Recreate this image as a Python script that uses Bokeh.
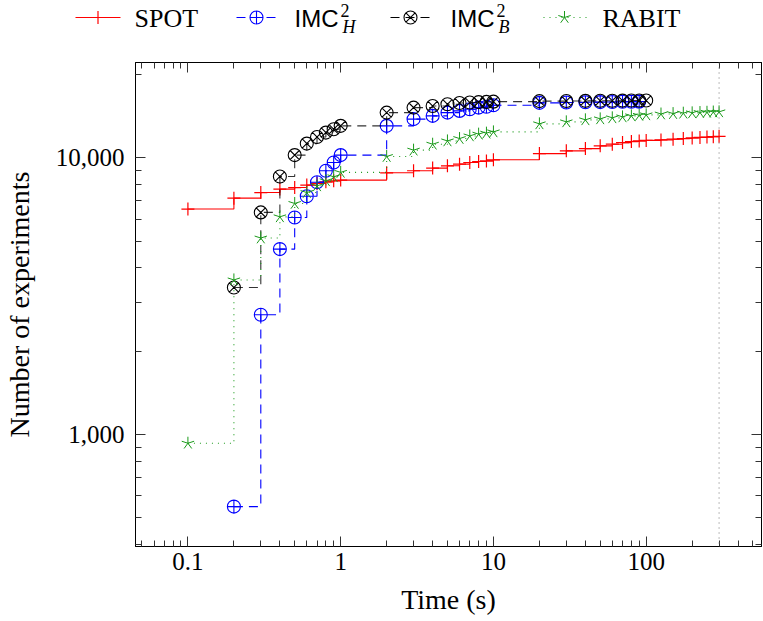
import math
from bokeh.plotting import figure
from bokeh.models import (Range1d, LogAxis, FixedTicker, Span, CustomJSTickFormatter,
                          NumeralTickFormatter)
from bokeh.layouts import column
from bokeh.core.properties import value
from bokeh.embed import file_html
from bokeh.resources import INLINE

# ---------------- data ----------------
t_spot = [0.1, 0.2, 0.3, 0.4, 0.5, 0.6, 0.7, 0.8, 0.9, 1, 2, 3, 4, 5, 6, 7, 8, 9, 10,
          20, 30, 40, 50, 60, 70, 80, 90, 100, 125, 150, 175, 200, 225, 250, 275, 300]
v_spot = [6530, 7150, 7490, 7710, 7810, 7970, 8080, 8190, 8260, 8310, 8830, 8980, 9180, 9360,
          9490, 9620, 9700, 9750, 9840, 10360, 10600, 10800, 11050, 11200, 11350, 11450,
          11510, 11560, 11610, 11680, 11740, 11800, 11850, 11890, 11930, 11960]

t_imch = [0.2, 0.3, 0.4, 0.5, 0.6, 0.7, 0.8, 0.9, 1, 2, 3, 4, 5, 6, 7, 8, 9, 10,
          20, 30, 40, 50, 60, 70, 80, 90]
v_imch = [549, 2710, 4680, 6090, 7260, 8160, 8980, 9620, 10230, 13050, 13800, 14180, 14570,
          14780, 14990, 15190, 15300, 15500, 15800, 15850, 15880, 15900, 15920, 15940, 15950, 15960]

t_imcb = [0.2, 0.3, 0.4, 0.5, 0.6, 0.7, 0.8, 0.9, 1, 2, 3, 4, 5, 6, 7, 8, 9, 10,
          20, 30, 40, 50, 60, 70, 80, 90, 100]
v_imcb = [3400, 6350, 8560, 10230, 11260, 11900, 12340, 12690, 13050, 14570, 15190, 15400,
          15620, 15780, 15850, 15900, 15930, 15960, 16030, 16050, 16070, 16080, 16090, 16100,
          16110, 16115, 16120]

t_rabit = [0.1, 0.2, 0.3, 0.4, 0.5, 0.6, 0.7, 0.8, 0.9, 1, 2, 3, 4, 5, 6, 7, 8, 9, 10,
           20, 30, 40, 50, 60, 70, 80, 90, 100, 125, 150, 175, 200, 225, 250, 275, 300]
v_rabit = [930, 3620, 5130, 6120, 6840, 7490, 7920, 8260, 8540, 8860, 10110, 10660, 11200,
           11510, 11740, 12000, 12180, 12280, 12410, 13270, 13490, 13720, 13830, 13950, 14060,
           14180, 14240, 14300, 14400, 14450, 14500, 14540, 14580, 14610, 14640, 14660]

timeout = 300
x_major = [0.1, 1, 10, 100]
y_major = [1000, 10000]

RED, BLUE, BLACK, GREEN = "#ff0000", "#0000ff", "#000000", "#1a9a1a"
SERIF = "Liberation Serif"
SANS = "Liberation Sans"

# ---------------- layout ----------------
W = 762
LEG_H = 45
MAIN_H = 576
ML, MR, MT, MB = 133, 1, 17, 75
frame_w = W - ML - MR - 1
dec_px = 153.0
x0 = -1 - 52.5 / dec_px
x1 = x0 + frame_w / dec_px
y_lo, y_hi = 393.8, 22110

p = figure(width=W, height=MAIN_H, x_axis_type="log", y_axis_type="log",
           x_range=Range1d(10 ** x0, 10 ** x1), y_range=Range1d(y_lo, y_hi),
           output_backend="svg", toolbar_location=None,
           min_border_left=ML, min_border_right=MR, min_border_top=MT, min_border_bottom=MB)
p.frame_align = False
p.grid.visible = False
p.outline_line_color = "black"
p.background_fill_color = "white"
p.border_fill_color = "white"

x_minor = [m * 10 ** k for k in range(-2, 4) for m in range(2, 10)]
y_minor = [m * 10 ** k for k in range(2, 5) for m in range(2, 10)]
xt = FixedTicker(ticks=x_major, minor_ticks=x_minor)
yt = FixedTicker(ticks=y_major, minor_ticks=y_minor)


def style_axis(ax, labels=True):
    ax.axis_line_color = "black"
    ax.major_tick_in = 10
    ax.major_tick_out = 0
    ax.minor_tick_in = 6
    ax.minor_tick_out = 0
    ax.major_tick_line_color = "#333333"
    ax.minor_tick_line_color = "#333333"
    ax.major_label_text_font = SERIF
    ax.major_label_text_font_size = "25px"
    ax.major_label_text_color = "black"
    ax.axis_label_text_font = SERIF
    ax.axis_label_text_font_size = "28px"
    ax.axis_label_text_font_style = "normal"
    ax.axis_label_text_color = "black"
    if not labels:
        ax.major_label_text_font_size = "2px"
        ax.major_label_text_alpha = 0
        ax.major_label_standoff = 0
        ax.formatter = CustomJSTickFormatter(code="return ' ';")


xa = p.xaxis[0]
xa.ticker = xt
xa.formatter = CustomJSTickFormatter(code="return tick >= 1 ? tick.toFixed(0) : tick.toFixed(1);")
xa.axis_label = "Time (s)"
style_axis(xa)
xa.major_label_standoff = 6
xa.axis_label_standoff = 11

ya = p.yaxis[0]
ya.ticker = yt
ya.formatter = NumeralTickFormatter(format="0,0")
ya.axis_label = "Number of experiments"
style_axis(ya)
ya.major_label_standoff = 11
ya.axis_label_standoff = 18

top_ax = LogAxis(ticker=FixedTicker(ticks=x_major, minor_ticks=x_minor))
style_axis(top_ax, labels=False)
p.add_layout(top_ax, "above")
right_ax = LogAxis(ticker=FixedTicker(ticks=y_major, minor_ticks=y_minor))
style_axis(right_ax, labels=False)
p.add_layout(right_ax, "right")

p.add_layout(Span(location=timeout, dimension="height", line_color="#777777",
                  line_dash="1 4", line_width=1))

STAR_ANGLES = [90, 162, 234, 306, 18]


def star(fig, xs, ys, color, length=6.5):
    for a in STAR_ANGLES:
        fig.ray(x=xs, y=ys, length=length, angle=a, angle_units="deg",
                length_units="screen", line_color=color, line_width=1)


# SPOT
p.step(t_spot, v_spot, mode="after", line_color=RED, line_width=1.1)
p.scatter(t_spot, v_spot, marker="cross", size=13, line_color=RED, line_width=1.2)
# IMC_H
p.step(t_imch, v_imch, mode="after", line_color=BLUE, line_width=1.1, line_dash="9 6")
p.scatter(t_imch, v_imch, marker="circle_cross", size=13, line_color=BLUE, fill_alpha=0, line_width=1.1)
# IMC_B
p.step(t_imcb, v_imcb, mode="after", line_color=BLACK, line_width=1.1, line_dash="9 6", line_alpha=0.8)
p.scatter(t_imcb, v_imcb, marker="circle_x", size=13, line_color=BLACK, fill_alpha=0, line_width=1.1)
# RABIT
p.step(t_rabit, v_rabit, mode="after", line_color=GREEN, line_width=1.1, line_dash="1 5")
star(p, t_rabit, v_rabit, GREEN)

# ---------------- legend (separate strip; x, y in page pixels, y downwards) ----------------
lg = figure(width=W, height=LEG_H, x_range=Range1d(0, W), y_range=Range1d(LEG_H, 0),
            x_axis_type=None, y_axis_type=None, output_backend="svg", toolbar_location=None,
            min_border=0)
lg.frame_align = False
lg.title.visible = False
lg.grid.visible = False
lg.outline_line_color = None
lg.background_fill_color = "white"
lg.border_fill_color = "white"

ym = 17      # marker row
yc = 17.5    # text centre line


def txt(x, y, s, font, size, style="normal"):
    lg.text(x=[x], y=[y], text=[s], text_font=value(font), text_font_size=size,
            text_font_style=style, text_color="black", text_baseline="middle")


# SPOT
lg.line([75, 120], [ym, ym], line_color=RED, line_width=1.1)
lg.scatter([97.5], [ym], marker="cross", size=13, line_color=RED, line_width=1.2)
txt(134, yc, "SPOT", SERIF, "26px")
# IMC_H
lg.line([236, 275], [ym, ym], line_color=BLUE, line_width=1.1, line_dash="9 6")
lg.scatter([256], [ym], marker="circle_cross", size=13, line_color=BLUE, fill_alpha=0, line_width=1.1)
txt(294, yc, "IMC", SANS, "24px")
txt(340, 10, "2", SERIF, "18px")
txt(342, 26.5, "H", SERIF, "18px", "italic")
# IMC_B
lg.line([390, 431], [ym, ym], line_color=BLACK, line_width=1.1, line_dash="9 6")
lg.scatter([410], [ym], marker="circle_x", size=13, line_color=BLACK, fill_alpha=0, line_width=1.1)
txt(450, yc, "IMC", SANS, "24px")
txt(496, 10, "2", SERIF, "18px")
txt(498, 26.5, "B", SERIF, "18px", "italic")
# RABIT
lg.line([543, 589], [ym, ym], line_color=GREEN, line_width=1.1, line_dash="1 5")
star(lg, [564], [ym], GREEN)
txt(602, yc, "RABIT", SERIF, "26px")

layout = column(lg, p, spacing=0)
open("out.html", "w").write(file_html(layout, INLINE))
